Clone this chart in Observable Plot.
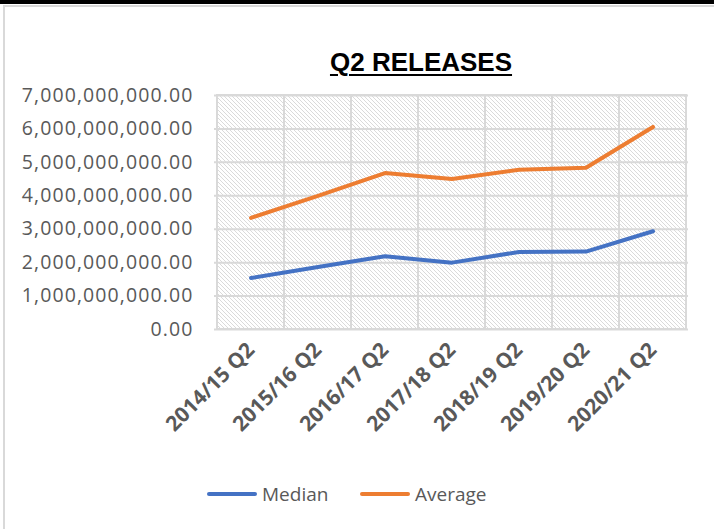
<!DOCTYPE html>
<html>
<head>
<meta charset="utf-8">
<script src="https://cdn.jsdelivr.net/npm/d3@7"></script>
<script src="https://cdn.jsdelivr.net/npm/@observablehq/plot@0.6"></script>
<style>
  html, body { margin: 0; padding: 0; background: #fff; }
  #wrap { position: relative; width: 714px; height: 529px; overflow: hidden; background: #fff; }
  #chart { position: absolute; left: 0; top: 0; }
  #chart g[aria-label="y-axis tick label"] text { letter-spacing: 1.1px; }
  .bar-top { position: absolute; left: 0; top: 0; width: 714px; height: 4px; background: #000; }
  .line-top { position: absolute; left: 3px; top: 5px; width: 711px; height: 2px; background: #d9d9d9; }
  .line-left { position: absolute; left: 3px; top: 5px; width: 2px; height: 524px; background: #d9d9d9; }
  #title { position: absolute; left: 0; width: 842px; top: 47px; text-align: center;
           font-family: "Liberation Sans", Arial, sans-serif; font-weight: bold; font-size: 26px;
           text-decoration: underline; text-underline-offset: 3px; text-decoration-thickness: 2px; color: #000; }
  .legend { position: absolute; top: 481px; font-family: "Open Sans", sans-serif; font-size: 19px; color: #595959; display: flex; align-items: center; }
  .legend .sw { display: inline-block; width: 50px; height: 4px; border-radius: 2px; margin-right: 5px; }
</style>
</head>
<body>
<div id="wrap">
  <div id="chart"></div>
  <div class="bar-top"></div>
  <div class="line-top"></div>
  <div class="line-left"></div>
  <div id="title">Q2 RELEASES</div>
  <div id="legend"></div>
</div>
<script>
const categories = ["2014/15 Q2", "2015/16 Q2", "2016/17 Q2", "2017/18 Q2", "2018/19 Q2", "2019/20 Q2", "2020/21 Q2"];
const median  = [1.54e9, 1.87e9, 2.19e9, 2.00e9, 2.32e9, 2.33e9, 2.94e9];
const average = [3.34e9, 4.00e9, 4.68e9, 4.50e9, 4.78e9, 4.84e9, 6.06e9];
const seriesNames = ["Median", "Average"];
const seriesColors = ["#4472C4", "#ED7D31"];
const yTicks = [0, 1e9, 2e9, 3e9, 4e9, 5e9, 6e9, 7e9];

const data = categories.flatMap((c, i) => [
  {cat: c, series: seriesNames[0], value: median[i]},
  {cat: c, series: seriesNames[1], value: average[i]}
]);
const yMax = yTicks[yTicks.length - 1];

const chart = Plot.plot({
  width: 714,
  height: 529,
  marginLeft: 214,
  marginRight: 26,
  marginTop: 95,
  marginBottom: 200,
  style: {background: "transparent", fontFamily: "'Open Sans', sans-serif", color: "#595959"},
  x: {type: "band", domain: categories, padding: 0, label: null},
  y: {domain: [0, yMax], label: null},
  color: {domain: seriesNames, range: seriesColors},
  marks: [
    Plot.barY(categories, {x: d => d, y1: () => 0, y2: () => yMax, fill: "url(#hatch)", stroke: "#d9d9d9", strokeWidth: 2, inset: 0}),
    Plot.ruleY(yTicks, {stroke: "#d9d9d9", strokeWidth: 2}),
    Plot.axisY({ticks: yTicks, tickFormat: d3.format(",.2f"), tickSize: 0, tickPadding: 21, fontSize: 19.5, label: null, fill: "#595959"}),
    Plot.axisX({tickSize: 0, tickRotate: -45, tickPadding: 17, fontSize: 21, fontWeight: "bold", label: null, fill: "#595959"}),
    Plot.line(data, {x: "cat", y: "value", stroke: "series", z: "series", strokeWidth: 4, strokeLinecap: "round", strokeLinejoin: "round"})
  ]
});

// hatch pattern for plot area background
const ns = "http://www.w3.org/2000/svg";
const defs = document.createElementNS(ns, "defs");
defs.innerHTML = `<pattern id="hatch" patternUnits="userSpaceOnUse" width="4" height="4">
  <rect width="4" height="4" fill="#ffffff"/>
  <path d="M-1,-1 L5,5 M3,-1 L5,1 M-1,3 L1,5" stroke="#dadada" stroke-width="1"/>
</pattern>`;
chart.insertBefore(defs, chart.firstChild);
document.getElementById("chart").appendChild(chart);

// legend
const legend = document.getElementById("legend");
const legendPos = [207, 360];
seriesNames.forEach((name, i) => {
  const item = document.createElement("div");
  item.className = "legend";
  item.style.left = legendPos[i] + "px";
  item.innerHTML = `<span class="sw" style="background:${seriesColors[i]}"></span><span>${name}</span>`;
  legend.appendChild(item);
});
</script>
</body>
</html>
